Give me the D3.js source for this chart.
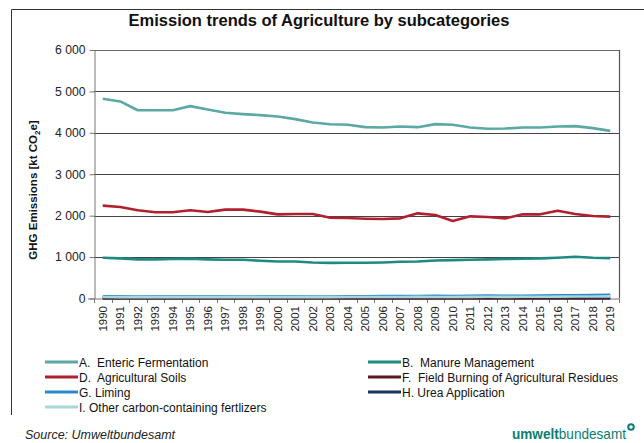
<!DOCTYPE html>
<html>
<head>
<meta charset="utf-8">
<script src="https://cdn.jsdelivr.net/npm/d3@7/dist/d3.min.js"></script>
<style>
  html, body { margin: 0; padding: 0; background: #fff; }
  svg { display: block; font-family: "Liberation Sans", Arial, sans-serif; }
</style>
</head>
<body>
<svg id="chart" width="644" height="443"></svg>
<script>
// Years on the category axis
const years = d3.range(1990, 2020).map(String);

// Emissions per subcategory, kt CO2e
const entericFermentation = [4823, 4758, 4545, 4545, 4545, 4645, 4565, 4484, 4452, 4427, 4395, 4331, 4250, 4206,
  4194, 4137, 4129, 4153, 4137, 4210, 4194, 4129, 4097, 4105, 4129, 4129, 4153, 4161, 4113, 4048];
const manureManagement = [984, 968, 944, 944, 952, 960, 944, 935, 935, 911, 895, 895, 871, 860,
  863, 863, 871, 887, 895, 919, 927, 935, 944, 952, 960, 968, 984, 1008, 984, 976];
const agriculturalSoils = [2242, 2210, 2129, 2081, 2081, 2129, 2089, 2145, 2145, 2097, 2032, 2040, 2040, 1952,
  1944, 1927, 1919, 1935, 2056, 2016, 1871, 1984, 1968, 1935, 2032, 2032, 2121, 2040, 1992, 1976];
const fieldBurning = [3, 3, 3, 3, 3, 2, 2, 2, 2, 2, 2, 2, 2, 2,
  2, 2, 2, 2, 2, 2, 2, 2, 2, 2, 2, 2, 2, 2, 2, 2];
const liming = [55, 52, 50, 48, 48, 47, 46, 48, 50, 47, 45, 47, 48, 50,
  52, 55, 58, 60, 62, 63, 60, 65, 70, 66, 68, 72, 75, 78, 85, 90];
const ureaApplication = [22, 22, 21, 21, 22, 22, 23, 23, 24, 24, 25, 25, 26, 26,
  27, 27, 28, 28, 29, 29, 30, 30, 31, 31, 32, 32, 33, 33, 34, 34];
const otherCarbonFertilizers = [35, 34, 33, 32, 32, 31, 31, 32, 33, 32, 31, 32, 33, 34,
  35, 36, 37, 38, 40, 38, 36, 40, 42, 40, 41, 43, 45, 47, 50, 52];

// Series names in legend order
const seriesNames = [
  "A.  Enteric Fermentation",
  "B.  Manure Management",
  "D.  Agricultural Soils",
  "F.  Field Burning of Agricultural Residues",
  "G. Liming",
  "H. Urea Application",
  "I. Other carbon-containing fertlizers"
];

// Value axis ticks
const yTicks = [0, 1000, 2000, 3000, 4000, 5000, 6000];

const seriesValues = [entericFermentation, manureManagement, agriculturalSoils, fieldBurning,
  liming, ureaApplication, otherCarbonFertilizers];
const seriesColors = ["#5ba8a4", "#1f8a80", "#b0202e", "#5a1a1e", "#2a88cc", "#17375a", "#a6d8dc"];

const series = seriesNames.map((name, i) => ({
  name, color: seriesColors[i],
  values: years.map((y, j) => ({ year: y, value: seriesValues[i][j] }))
}));

const svg = d3.select("#chart");

// Outer frame
svg.append("path")
  .attr("d", "M11.5,415 L11.5,9.5 L644,9.5")
  .attr("fill", "none").attr("stroke", "#333").attr("stroke-width", 1);

// Title
svg.append("text")
  .attr("x", 319).attr("y", 26)
  .attr("text-anchor", "middle")
  .attr("font-size", "16.5px").attr("font-weight", "bold").attr("fill", "#111")
  .text("Emission trends of Agriculture by subcategories");

const plot = { left: 94, right: 619, top: 50, bottom: 298.5 };

const x = d3.scaleBand().domain(years).range([plot.left, plot.right]);
const y = d3.scaleLinear().domain([0, 6000]).range([plot.bottom, plot.top]);

const g = svg.append("g");

// Horizontal gridlines
g.selectAll("line.grid").data(yTicks.filter(t => t > 0)).join("line")
  .attr("class", "grid")
  .attr("x1", plot.left).attr("x2", plot.right)
  .attr("y1", d => Math.round(y(d)) + 0.5).attr("y2", d => Math.round(y(d)) + 0.5)
  .attr("stroke", d => d === 6000 ? "#666" : "#444").attr("stroke-width", 1.2);

// Right frame of the plot area
g.append("line")
  .attr("x1", plot.right + 0.5).attr("x2", plot.right + 0.5)
  .attr("y1", plot.top).attr("y2", plot.bottom)
  .attr("stroke", "#555").attr("stroke-width", 1.2);

// Y axis
const yAxis = g.append("g")
  .attr("transform", `translate(${plot.left + 0.5},0)`)
  .call(d3.axisLeft(y).tickValues(yTicks).tickSize(5).tickSizeOuter(0)
    .tickFormat(d => d3.format(",")(d).replace(",", " ")));
yAxis.select(".domain").attr("stroke", "#777");
yAxis.selectAll(".tick line").attr("stroke", "#777");
yAxis.selectAll(".tick text")
  .attr("font-size", "12.2px").attr("fill", "#222").attr("x", -9)
  .attr("font-family", "Liberation Sans, Arial, sans-serif");

// X axis with ticks at category boundaries
const xAxisG = g.append("g").attr("transform", `translate(0,${plot.bottom + 0.5})`);
xAxisG.append("line")
  .attr("x1", plot.left - 6).attr("x2", plot.right + 1)
  .attr("stroke", "#777");
const bounds = years.map(yv => x(yv)).concat([plot.right]);
xAxisG.selectAll("line.tk").data(bounds).join("line")
  .attr("class", "tk")
  .attr("x1", d => Math.round(d) + 0.5).attr("x2", d => Math.round(d) + 0.5)
  .attr("y1", 0).attr("y2", 4)
  .attr("stroke", "#777");
xAxisG.selectAll("text").data(years).join("text")
  .attr("transform", d => `translate(${x(d) + x.bandwidth() / 2 + 4},7) rotate(-90)`)
  .attr("text-anchor", "end")
  .attr("font-size", "11.5px").attr("fill", "#222")
  .text(d => d);

// Y axis title
const yTitle = svg.append("text")
  .attr("transform", "translate(37,190) rotate(-90)")
  .attr("text-anchor", "middle")
  .attr("font-size", "11.5px").attr("font-weight", "bold").attr("fill", "#111");
yTitle.append("tspan").text("GHG Emissions [kt CO");
yTitle.append("tspan").attr("font-size", "8px").attr("dy", 3).text("2");
yTitle.append("tspan").attr("dy", -3).text("e]");

// Series lines
const line = d3.line()
  .x(d => x(d.year) + x.bandwidth() / 2)
  .y(d => y(d.value));

g.selectAll("path.series").data(series).join("path")
  .attr("class", "series")
  .attr("fill", "none")
  .attr("stroke", d => d.color)
  .attr("stroke-width", 2.6)
  .attr("stroke-linejoin", "round")
  .attr("d", d => line(d.values));

// Legend
const legendPos = [
  [45, 362], [368, 362],
  [45, 377], [368, 377],
  [45, 392], [368, 392],
  [45, 407]
];
const lg = svg.append("g").selectAll("g").data(series).join("g")
  .attr("transform", (d, i) => `translate(${legendPos[i][0]},${legendPos[i][1]})`);
lg.append("line")
  .attr("x1", 0).attr("x2", 33).attr("y1", 0).attr("y2", 0)
  .attr("stroke", d => d.color).attr("stroke-width", 3);
lg.append("text")
  .attr("x", 34).attr("y", 4.5)
  .attr("font-size", "12px").attr("fill", "#111")
  .attr("xml:space", "preserve")
  .style("white-space", "pre")
  .text(d => d.name);

// Source note
svg.append("text")
  .attr("x", 25).attr("y", 439)
  .attr("font-size", "12.5px").attr("font-style", "italic").attr("fill", "#222")
  .text("Source: Umweltbundesamt");

// Agency wordmark
const logo = svg.append("text")
  .attr("x", 512).attr("y", 439)
  .attr("font-size", "15px").attr("fill", "#0a7d72")
  .attr("textLength", 114).attr("lengthAdjust", "spacingAndGlyphs")
  .attr("font-family", "Liberation Sans, Arial, sans-serif");
logo.append("tspan").attr("font-weight", "bold").text("umwelt");
logo.append("tspan").text("bundesamt");
svg.append("circle")
  .attr("cx", 631).attr("cy", 427).attr("r", 2.8)
  .attr("fill", "none").attr("stroke", "#0a7d72").attr("stroke-width", 2);
</script>
</body>
</html>
